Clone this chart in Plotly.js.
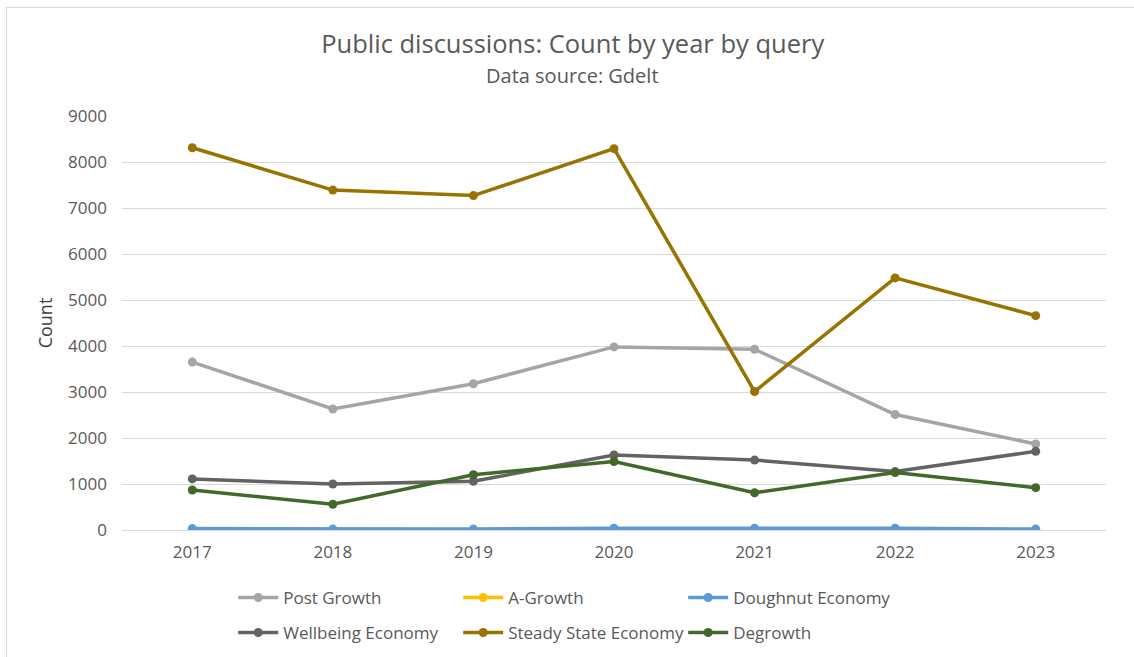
<!DOCTYPE html>
<html>
<head>
<meta charset="utf-8">
<script src="https://cdn.plot.ly/plotly-3.0.1.min.js"></script>
<style>
  html, body { margin: 0; padding: 0; background: #fff; }
  #wrap { position: relative; width: 1134px; height: 657px; overflow: hidden; }
  #chart { width: 1134px; height: 657px; }
  #frame { position: absolute; left: 6px; top: 7px; width: 1200px; height: 700px;
           border-top: 1px solid #d9d9d9; border-left: 1px solid #d9d9d9; pointer-events: none; }
</style>
</head>
<body>
<div id="wrap">
  <div id="chart"></div>
  <div id="frame"></div>
</div>
<script>
const years = [2017, 2018, 2019, 2020, 2021, 2022, 2023];

const postGrowth       = [3650, 2630, 3180, 3980, 3930, 2510, 1870];
const aGrowth          = [5, 5, 5, 10, 10, 10, 5];
const doughnutEconomy  = [30, 20, 20, 40, 40, 40, 20];
const wellbeingEconomy = [1110, 1000, 1060, 1630, 1520, 1270, 1710];
const steadyState      = [8310, 7390, 7270, 8290, 3010, 5480, 4660];
const degrowth         = [870, 560, 1200, 1490, 810, 1250, 920];

const seriesNames = ["Post Growth", "A-Growth", "Doughnut Economy",
                     "Wellbeing Economy", "Steady State Economy", "Degrowth"];
const seriesValues = [postGrowth, aGrowth, doughnutEconomy, wellbeingEconomy, steadyState, degrowth];
const seriesColors = ["#a5a5a5", "#ffc000", "#5b9bd5", "#636363", "#997300", "#43682b"];
const seriesLegend = ["legend", "legend", "legend", "legend2", "legend2", "legend2"];

const FONT = "Open Sans, Noto Sans, sans-serif";
const TXT = "#595959";

const traces = seriesNames.map((name, i) => ({
  type: "scatter",
  mode: "lines+markers",
  name: name,
  x: years,
  y: seriesValues[i],
  legend: seriesLegend[i],
  line: { color: seriesColors[i], width: 3.5 },
  marker: { color: seriesColors[i], size: 9 },
  hoverinfo: "x+y+name"
}));

const legendCommon = {
  orientation: "h",
  xanchor: "left",
  yanchor: "middle",
  x: 0.113,
  entrywidth: 170,
  entrywidthmode: "pixels",
  itemwidth: 40,
  font: { family: FONT, size: 17, color: TXT },
  bgcolor: "rgba(0,0,0,0)",
  traceorder: "normal"
};

const layout = {
  width: 1134,
  height: 657,
  paper_bgcolor: "#ffffff",
  plot_bgcolor: "#ffffff",
  margin: { l: 122, r: 28, t: 116, b: 127, autoexpand: false },
  font: { family: FONT, color: TXT },
  title: {
    text: "Public discussions: Count by year by query",
    font: { family: FONT, size: 25.5, color: TXT },
    x: 0.458, xanchor: "center", xref: "paper",
    y: 1 - 44 / 657, yanchor: "middle", yref: "container"
  },
  annotations: [{
    text: "Data source: Gdelt",
    xref: "paper", yref: "paper",
    x: 0.458, y: (530 - 75) / 414,
    xanchor: "center", yanchor: "middle",
    showarrow: false,
    font: { family: FONT, size: 20, color: TXT }
  }],
  xaxis: {
    range: [2016.5, 2023.5],
    tickmode: "array",
    tickvals: years,
    ticktext: years.map(String),
    showgrid: false,
    zeroline: false,
    showline: false,
    ticks: "",
    ticklabelstandoff: 10,
    tickfont: { family: FONT, size: 17, color: TXT },
    fixedrange: true
  },
  yaxis: {
    range: [0, 9000],
    dtick: 1000,
    tick0: 0,
    showgrid: true,
    gridcolor: "#d9d9d9",
    gridwidth: 1,
    zeroline: true,
    zerolinecolor: "#d9d9d9",
    zerolinewidth: 1,
    showline: false,
    ticks: "",
    ticklabelstandoff: 14,
    tickfont: { family: FONT, size: 17, color: TXT },
    title: { text: "Count", font: { family: FONT, size: 18, color: "#404040" }, standoff: 10 },
    fixedrange: true
  },
  legend: Object.assign({}, legendCommon, { y: (530 - 598) / 414 }),
  legend2: Object.assign({}, legendCommon, { y: (530 - 633) / 414 }),
  showlegend: true
};

Plotly.newPlot("chart", traces, layout, { displayModeBar: false, staticPlot: false });
</script>
</body>
</html>
